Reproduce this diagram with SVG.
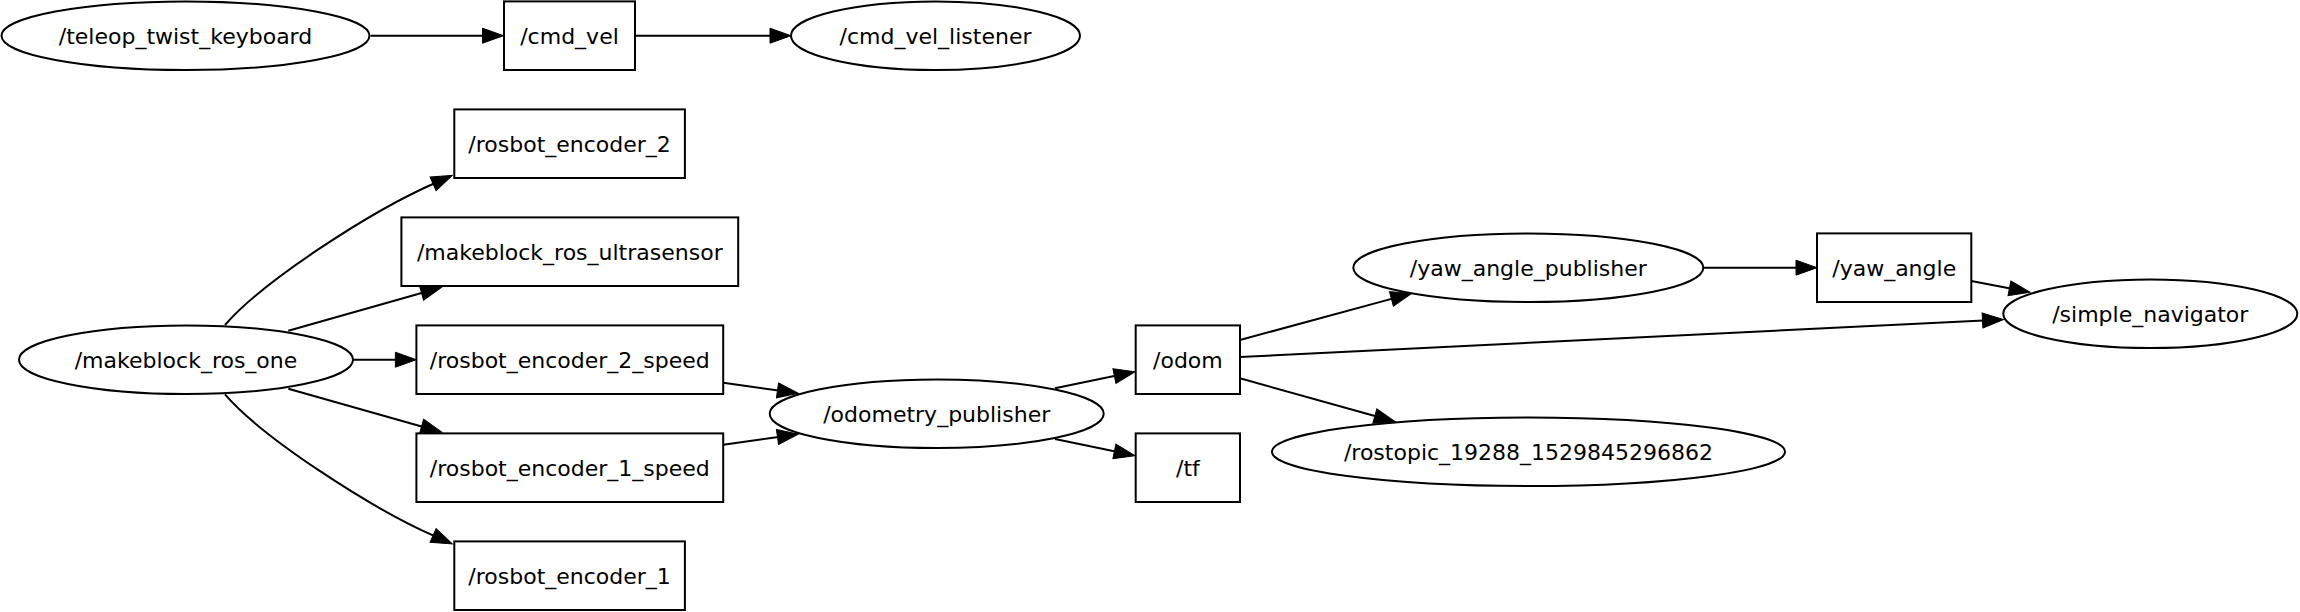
<svg xmlns="http://www.w3.org/2000/svg" width="2300" height="612" viewBox="0 0 2300 612">
<style>
.n ellipse, .n rect { fill: #ffffff; stroke: #000000; stroke-width: 2; }
.n text { font-family: "DejaVu Sans", "Liberation Sans", sans-serif; font-size: 22px; text-anchor: middle; fill: #000000; }
#edges path { fill: none; stroke: #000000; stroke-width: 2; marker-end: url(#arr); }
</style>
<defs>
<marker id="arr" markerUnits="userSpaceOnUse" markerWidth="24" markerHeight="18" refX="1" refY="7.5" orient="auto" overflow="visible">
<path d="M0,0 L21,7.5 L0,15 z" fill="#000000" stroke="#000000" stroke-width="1"/>
</marker>
</defs>
<rect x="0" y="0" width="2300" height="612" fill="#ffffff"/>
<g id="edges">
<path d="M370.5,35.7 L483.5,35.7"/>
<path d="M635,35.7 L771,35.7"/>
<path d="M353,359.7 L396.4,359.7"/>
<path d="M288.3,330.7 L422.5,292.7"/>
<path d="M288.3,388.7 L422.5,426.7"/>
<path d="M225,325 C262,282 370,211.7 434,183.5"/>
<path d="M225,394.4 C262,437.4 370,507.7 434,535.9"/>
<path d="M723.3,382.7 L778.5,390.5"/>
<path d="M723.3,444.7 L778.5,436.9"/>
<path d="M1055,388.3 L1115.4,375.8"/>
<path d="M1055,439.1 L1115.4,451.6"/>
<path d="M1240,340 L1392.4,298.6"/>
<path d="M1240,357 L1983.5,320.5"/>
<path d="M1240,378.3 L1375.8,416.3"/>
<path d="M1703.3,267.7 L1797,267.7"/>
<path d="M1971.3,281 L2010.4,288.5"/>
</g>
<g id="teleop_twist_keyboard" class="n"><ellipse cx="185.5" cy="35.7" rx="184" ry="34.3"/><text x="185.5" y="43.7">/teleop_twist_keyboard</text></g>
<g id="cmd_vel" class="n"><rect x="504" y="1.4" width="131" height="68.6"/><text x="569.5" y="43.7">/cmd_vel</text></g>
<g id="cmd_vel_listener" class="n"><ellipse cx="935.5" cy="35.7" rx="144.5" ry="34.3"/><text x="935.5" y="43.7">/cmd_vel_listener</text></g>
<g id="rosbot_encoder_2" class="n"><rect x="454.3" y="109.4" width="230.6" height="68.6"/><text x="569.6" y="151.7">/rosbot_encoder_2</text></g>
<g id="makeblock_ros_ultrasensor" class="n"><rect x="401.4" y="217.4" width="336.8" height="68.6"/><text x="569.8" y="259.7">/makeblock_ros_ultrasensor</text></g>
<g id="makeblock_ros_one" class="n"><ellipse cx="186" cy="359.7" rx="167" ry="34.3"/><text x="186" y="367.7">/makeblock_ros_one</text></g>
<g id="rosbot_encoder_2_speed" class="n"><rect x="416.4" y="325.4" width="306.8" height="68.6"/><text x="569.8" y="367.7">/rosbot_encoder_2_speed</text></g>
<g id="rosbot_encoder_1_speed" class="n"><rect x="416.4" y="433.4" width="306.8" height="68.6"/><text x="569.8" y="475.7">/rosbot_encoder_1_speed</text></g>
<g id="rosbot_encoder_1" class="n"><rect x="454.3" y="541.4" width="230.6" height="68.6"/><text x="569.6" y="583.7">/rosbot_encoder_1</text></g>
<g id="odometry_publisher" class="n"><ellipse cx="936.7" cy="413.7" rx="167" ry="34.3"/><text x="936.7" y="421.7">/odometry_publisher</text></g>
<g id="odom" class="n"><rect x="1135.7" y="325.4" width="104.3" height="68.6"/><text x="1187.9" y="367.7">/odom</text></g>
<g id="tf" class="n"><rect x="1135.7" y="433.4" width="104.3" height="68.6"/><text x="1187.9" y="475.7">/tf</text></g>
<g id="yaw_angle_publisher" class="n"><ellipse cx="1528.3" cy="267.7" rx="175" ry="34.3"/><text x="1528.3" y="275.7">/yaw_angle_publisher</text></g>
<g id="rostopic_19288_1529845296862" class="n"><ellipse cx="1528.5" cy="451.7" rx="256.5" ry="34.3"/><text x="1528.5" y="459.7">/rostopic_19288_1529845296862</text></g>
<g id="yaw_angle" class="n"><rect x="1817" y="233.4" width="154.3" height="68.6"/><text x="1894.2" y="275.7">/yaw_angle</text></g>
<g id="simple_navigator" class="n"><ellipse cx="2150.3" cy="313.8" rx="147" ry="34.3"/><text x="2150.3" y="321.8">/simple_navigator</text></g>
</svg>
